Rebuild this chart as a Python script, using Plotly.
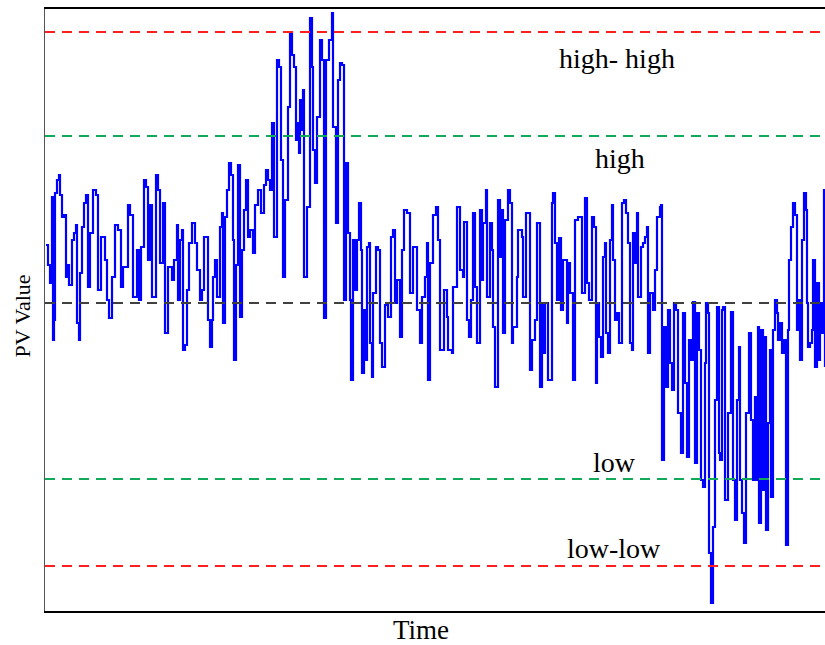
import plotly.graph_objects as go

# Série do PV ao longo do tempo
time = [
    1, 3, 5, 7, 8, 9, 10, 12, 14, 15, 17, 19, 21, 23, 24, 27, 29, 31, 32, 34,
    35, 37, 39, 41, 43, 45, 48, 51, 53, 56, 60, 62, 64, 67, 70, 73, 76, 78, 83, 85,
    88, 92, 94, 96, 99, 101, 103, 105, 107, 111, 113, 115, 118, 120, 123, 127, 129, 132, 133, 135,
    137, 138, 140, 142, 144, 147, 150, 152, 155, 157, 159, 161, 163, 165, 167, 168, 170, 172, 175, 177,
    178, 180, 182, 184, 186, 188, 189, 191, 193, 195, 197, 199, 201, 203, 205, 208, 210, 213, 216, 219,
    221, 223, 225, 227, 229, 232, 234, 236, 238, 240, 243, 245, 247, 249, 251, 253, 254, 255, 257, 258,
    259, 262, 265, 267, 268, 270, 272, 275, 277, 279, 281, 284, 287, 288, 291, 293, 295, 297, 299, 301,
    303, 305, 306, 308, 310, 312, 314, 316, 317, 319, 320, 322, 324, 325, 327, 328, 331, 333, 335, 337,
    340, 343, 346, 348, 350, 352, 355, 357, 359, 362, 365, 368, 372, 375, 377, 380, 382, 383, 385, 388,
    391, 393, 395, 399, 402, 403, 407, 408, 412, 415, 418, 419, 422, 424, 426, 428, 430, 432, 435, 437,
    438, 441, 442, 445, 447, 448, 450, 453, 455, 457, 458, 460, 463, 465, 467, 468, 472, 473, 477, 478,
    481, 483, 485, 487, 490, 492, 495, 497, 498, 500, 503, 507, 508, 510, 512, 514, 516, 518, 522, 523,
    525, 528, 530, 533, 535, 537, 540, 542, 544, 547, 549, 551, 552, 554, 556, 558, 560, 561, 563, 565,
    567, 568, 570, 572, 574, 576, 577, 579, 581, 583, 585, 587, 588, 590, 592, 593, 596, 598, 600, 602,
    603, 605, 608, 610, 612, 615, 616, 617, 619, 621, 623, 625, 627, 629, 631, 633, 636, 638, 640, 642,
    644, 646, 648, 650, 652, 654, 656, 658, 660, 661, 663, 664, 666, 668, 670, 672, 674, 675, 677, 678,
    680, 683, 686, 688, 690, 692, 694, 695, 697, 699, 701, 704, 706, 708, 710, 712, 713, 714, 716, 718,
    720, 721, 723, 725, 726, 728, 730, 732, 733, 735, 737, 739, 741, 743, 744, 746, 748, 750, 752, 754,
    755, 757, 759, 761, 762, 763, 765, 767, 768, 770, 772, 774, 775, 777, 779, 780,
]
pv = [
    55.8, 53.8, 52.0, 60.6, 46.3, 48.3, 61.0, 62.3, 62.8, 60.8, 58.6, 58.8, 52.6, 53.8, 51.8, 56.3, 57.0, 57.8, 48.0, 46.3,
    53.0, 57.6, 60.0, 60.8, 51.6, 57.0, 61.3, 60.8, 51.3, 56.6, 54.3, 50.3, 48.5, 52.6, 57.8, 57.3, 51.6, 53.6, 59.8, 58.8,
    50.6, 55.3, 50.3, 55.6, 62.3, 61.6, 54.3, 59.8, 50.6, 62.8, 61.3, 54.0, 60.0, 47.0, 53.6, 52.3, 54.3, 57.8, 50.3, 56.3,
    57.3, 45.3, 45.8, 51.3, 56.0, 58.0, 56.0, 53.3, 50.3, 51.3, 56.6, 56.6, 48.3, 45.6, 48.3, 52.6, 54.3, 50.6, 57.6, 59.0,
    48.0, 58.6, 61.3, 64.0, 62.8, 56.3, 44.3, 53.8, 63.8, 48.6, 55.3, 59.3, 62.3, 56.6, 57.3, 55.0, 59.8, 61.3, 59.0, 61.8,
    63.3, 62.3, 61.3, 68.0, 56.6, 74.3, 73.6, 64.3, 52.6, 60.3, 69.6, 77.1, 74.8, 73.6, 66.3, 68.0, 65.0, 70.3, 67.3, 71.3,
    52.6, 59.6, 78.5, 73.6, 65.3, 62.0, 68.6, 76.3, 74.3, 48.5, 74.3, 76.3, 79.0, 67.6, 58.0, 72.3, 74.0, 73.8, 50.3, 64.0,
    57.0, 50.3, 42.3, 56.3, 51.3, 56.3, 60.0, 55.3, 43.0, 49.3, 44.3, 55.6, 56.0, 46.0, 42.6, 51.0, 55.6, 55.3, 46.0, 43.6,
    49.8, 48.6, 56.6, 57.3, 50.0, 52.3, 46.6, 55.3, 59.3, 59.0, 51.0, 55.6, 49.3, 46.0, 50.6, 52.6, 56.0, 42.3, 54.0, 58.8,
    59.6, 56.3, 45.3, 51.3, 48.6, 45.3, 45.0, 51.6, 59.6, 53.3, 52.6, 58.1, 48.3, 46.6, 50.3, 59.0, 51.6, 46.0, 59.3, 52.3,
    58.0, 61.3, 50.6, 58.0, 55.3, 47.6, 41.6, 60.3, 54.6, 59.3, 47.0, 58.3, 61.3, 60.0, 46.0, 47.6, 52.6, 57.3, 56.6, 50.6,
    59.0, 59.0, 43.3, 46.3, 48.3, 58.0, 41.6, 50.0, 45.0, 50.0, 42.3, 60.0, 61.0, 56.0, 50.3, 56.5, 49.3, 54.3, 48.0, 54.0,
    51.0, 42.3, 58.3, 58.6, 58.6, 51.0, 60.5, 52.0, 50.3, 58.6, 57.6, 42.0, 50.0, 46.6, 44.6, 54.6, 56.0, 47.0, 45.0, 56.3,
    59.8, 54.3, 48.3, 49.0, 46.0, 46.0, 60.0, 60.3, 59.0, 56.0, 46.0, 45.3, 57.0, 54.0, 59.0, 50.6, 55.6, 56.0, 56.6, 57.6,
    45.0, 51.0, 49.3, 53.3, 58.6, 59.6, 59.8, 34.3, 47.6, 41.6, 49.3, 44.0, 41.3, 50.0, 49.3, 39.0, 35.0, 49.0, 42.0, 34.6,
    46.3, 44.3, 50.1, 34.0, 49.0, 45.3, 32.3, 31.6, 44.0, 50.0, 49.0, 25.0, 20.0, 27.6, 40.3, 49.6, 35.0, 34.3, 49.3, 49.6,
    30.3, 39.0, 49.1, 32.3, 28.3, 40.3, 45.6, 32.3, 29.0, 26.0, 39.0, 47.0, 38.3, 32.3, 40.6, 32.3, 47.6, 28.0, 47.3, 31.3,
    46.6, 27.3, 38.0, 45.3, 30.6, 47.3, 50.3, 49.0, 46.3, 48.0, 45.0, 46.3, 25.8, 47.3, 54.3, 57.6, 60.0, 58.8, 47.3, 50.3,
    44.3, 56.3, 61.0, 59.3, 50.0, 45.6, 46.0, 47.3, 54.3, 43.6, 52.0, 44.3, 50.0, 47.0, 61.3, 43.6,
]

# Limites de alarme
HIGH_HIGH = 77.1
HIGH = 66.7
MEAN = 50.0
LOW = 32.4
LOW_LOW = 23.7

SERIF = "Liberation Serif, Times New Roman, serif"

fig = go.Figure()
fig.add_trace(go.Scatter(
    x=time, y=pv, mode="lines",
    line=dict(color="#0000ff", width=2.2, shape="hv"),
    hoverinfo="skip",
))

for nivel, cor in [(HIGH_HIGH, "#ff1f1f"), (HIGH, "#12a95a"), (MEAN, "#404040"),
                   (LOW, "#12a95a"), (LOW_LOW, "#ff1f1f")]:
    fig.add_hline(y=nivel, line=dict(color=cor, width=2, dash="10px,7px"))

# rótulos dos limites
for texto, xt, yt in [("high- high", 572, 74.5), ("high", 575, 64.5),
                      ("low", 569, 34.1), ("low-low", 569, 25.5)]:
    fig.add_annotation(x=xt, y=yt, text=texto, showarrow=False,
                       font=dict(family=SERIF, size=28, color="black"))

fig.add_annotation(xref="paper", yref="paper", x=0.482, y=-0.032, text="Time",
                   showarrow=False, yanchor="middle",
                   font=dict(family=SERIF, size=27, color="black"))
fig.add_annotation(xref="paper", yref="paper", x=-0.029, y=0.49, text="PV Value",
                   showarrow=False, textangle=-90, xanchor="center", yanchor="middle",
                   font=dict(family=SERIF, size=22, color="black"))

fig.update_layout(
    width=825, height=645,
    margin=dict(l=45, r=0, t=9, b=34),
    plot_bgcolor="white", paper_bgcolor="white",
    showlegend=False,
)
fig.update_xaxes(range=[0, 780], showgrid=False, zeroline=False, showticklabels=False,
                 ticks="", showline=True, linecolor="black", linewidth=2, mirror=True)
fig.update_yaxes(range=[19.2, 79.4], showgrid=False, zeroline=False, showticklabels=False,
                 ticks="", showline=True, linecolor="#555555", linewidth=1)

# sem margem da página, para o gráfico ocupar a janela toda
fig.write_html("out.html", config={"displayModeBar": False},
               post_script="document.body.style.margin='0px';")
